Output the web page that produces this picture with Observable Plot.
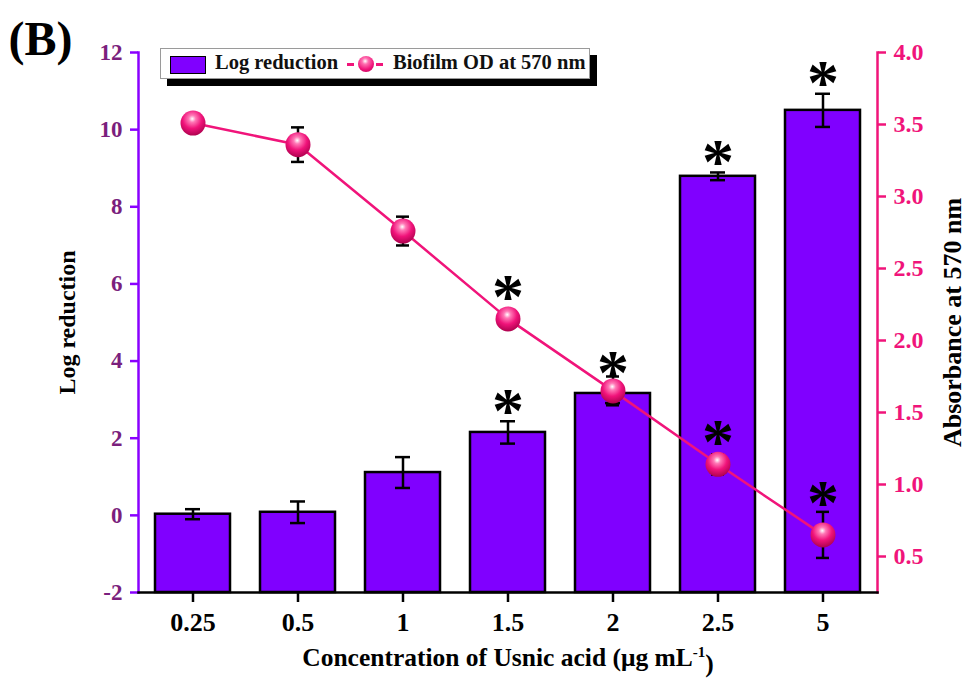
<!DOCTYPE html>
<html>
<head>
<meta charset="utf-8">
<script src="https://cdn.jsdelivr.net/npm/d3@7"></script>
<script src="https://cdn.jsdelivr.net/npm/@observablehq/plot@0.6"></script>
<style>
  html, body { margin: 0; padding: 0; background: #fff; }
  #wrap { position: relative; width: 965px; height: 679px; font-family: "Liberation Serif", "Times New Roman", serif; font-weight: bold; }
  #legend { position: absolute; left: 160px; top: 48px; width: 428px; height: 29px; background: #fff; border: 1px solid #9a9a9a; box-shadow: 7px 7px 0 #000; font-size: 20.5px; color: #111; white-space: nowrap; }
  #legend .sw { position: absolute; left: 9px; top: 7px; width: 34px; height: 16px; background: #8000ff; border: 1.5px solid #000; }
  #legend .t1 { position: absolute; left: 54px; top: 2px; }
  #legend .d1 { position: absolute; left: 186px; top: 14px; width: 7px; height: 2.5px; background: #f0147a; }
  #legend .d2 { position: absolute; left: 215px; top: 14px; width: 7px; height: 2.5px; background: #f0147a; }
  #legend .ball { position: absolute; left: 197px; top: 7px; width: 16px; height: 16px; border-radius: 50%; background: radial-gradient(circle at 45% 32%, #fff 0%, #ff6fb0 22%, #f0137a 60%, #b0004c 100%); }
  #legend .t2 { position: absolute; left: 232px; top: 2px; }
</style>
</head>
<body>
<div id="wrap"></div>
<script>
// ---- data ----
const concentrations = ["0.25", "0.5", "1", "1.5", "2", "2.5", "5"];
const logReduction    = [0.03, 0.08, 1.11, 2.15, 3.16, 8.79, 10.5];
const logReductionErr = [0.13, 0.28, 0.40, 0.29, 0.25, 0.10, 0.43];
const biofilmOD       = [3.51, 3.36, 2.76, 2.15, 1.65, 1.14, 0.65];
const biofilmODErr    = [0.05, 0.12, 0.10, 0.05, 0.10, 0.07, 0.16];
const barSignificant  = [false, false, false, true, true, true, true];
const odSignificant   = [false, false, false, true, false, true, true];
const leftTicks  = [-2, 0, 2, 4, 6, 8, 10, 12];
const rightTicks = [0.5, 1.0, 1.5, 2.0, 2.5, 3.0, 3.5, 4.0];
const leftDomain  = [-2, 12];
const rightDomain = [0.25, 4.0];

// ---- colours ----
const violet = "#8000ff";
const axisViolet = "#8a00ff";
const purpleText = "#7b1f7d";
const pink = "#f0147a";

// map right-axis values into left-axis units
const toLeft = v => leftDomain[0] + (v - rightDomain[0]) * (leftDomain[1] - leftDomain[0]) / (rightDomain[1] - rightDomain[0]);
const fromLeft = y => rightDomain[0] + (y - leftDomain[0]) * (rightDomain[1] - rightDomain[0]) / (leftDomain[1] - leftDomain[0]);

const rows = concentrations.map((c, i) => ({
  c,
  lr: logReduction[i],
  lrLo: logReduction[i] - logReductionErr[i],
  lrHi: logReduction[i] + logReductionErr[i],
  od: toLeft(biofilmOD[i]),
  odLo: toLeft(biofilmOD[i] - biofilmODErr[i]),
  odHi: toLeft(biofilmOD[i] + biofilmODErr[i]),
  barSig: barSignificant[i],
  odSig: odSignificant[i]
}));

const fontFam = "Liberation Serif, Times New Roman, serif";

const chart = Plot.plot({
  width: 965,
  height: 679,
  marginLeft: 138,
  marginRight: 88,
  marginTop: 52,
  marginBottom: 87,
  style: { fontFamily: fontFam, fontWeight: "bold", background: "transparent", overflow: "visible" },
  x: { domain: concentrations, paddingInner: 0.29, paddingOuter: 0.145 },
  y: { domain: leftDomain },
  marks: [
    Plot.barY(rows, { x: "c", y1: leftDomain[0], y2: "lr", fill: violet, stroke: "#000", strokeWidth: 2.5 }),
    Plot.ruleX(rows, { x: "c", y1: "lrLo", y2: "lrHi", stroke: "#000", strokeWidth: 2.5 }),
    Plot.tickY(rows, { x: "c", y: "lrHi", stroke: "#000", strokeWidth: 2.5, insetLeft: 30, insetRight: 30 }),
    Plot.tickY(rows, { x: "c", y: "lrLo", stroke: "#000", strokeWidth: 2.5, insetLeft: 30, insetRight: 30 }),
    Plot.line(rows, { x: "c", y: "od", stroke: pink, strokeWidth: 2.5 }),
    Plot.ruleX(rows, { x: "c", y1: "odLo", y2: "odHi", stroke: "#000", strokeWidth: 2.5 }),
    Plot.tickY(rows, { x: "c", y: "odHi", stroke: "#000", strokeWidth: 2.5, insetLeft: 31, insetRight: 31 }),
    Plot.tickY(rows, { x: "c", y: "odLo", stroke: "#000", strokeWidth: 2.5, insetLeft: 31, insetRight: 31 }),
    Plot.dot(rows, { x: "c", y: "od", r: 12.5, fill: "url(#ball)", stroke: "none" }),
    Plot.text(rows.filter(d => d.barSig), { x: "c", y: "lrHi", text: () => "*", fontSize: 64, fontFamily: fontFam, fontWeight: "bold", fill: "#000", dy: -10, lineAnchor: "middle" }),
    Plot.text(rows.filter(d => d.odSig), { x: "c", y: d => Math.max(d.odHi, d.od + 0.35), text: () => "*", fontSize: 64, fontFamily: fontFam, fontWeight: "bold", fill: "#000", dy: -8, lineAnchor: "middle" }),
    // axes
    Plot.axisY({ anchor: "left", ticks: leftTicks, tickFormat: d => String(d), tickSize: 8, tickPadding: 8, stroke: axisViolet, fill: purpleText, strokeWidth: 2.5, fontSize: 23, label: null }),
    Plot.axisY({ anchor: "right", ticks: rightTicks.map(toLeft), tickFormat: d => fromLeft(d).toFixed(1), tickSize: 8, tickPadding: 8, stroke: pink, fill: pink, strokeWidth: 2.5, fontSize: 24, label: null }),
    Plot.axisX({ anchor: "bottom", tickSize: 10, tickPadding: 10, stroke: "#000", fill: "#000", strokeWidth: 2.5, fontSize: 26, label: null }),
    Plot.frame({ anchor: "left", stroke: axisViolet, strokeWidth: 2.5 }),
    Plot.frame({ anchor: "right", stroke: pink, strokeWidth: 2.5 }),
    Plot.frame({ anchor: "bottom", stroke: "#000", strokeWidth: 2.5 }),
    // titles
    Plot.text(["(B)"], { frameAnchor: "top-left", text: d => d, dx: -130, dy: -32, fontSize: 48, fontFamily: fontFam, fontWeight: "bold", fill: "#000", textAnchor: "start", lineAnchor: "top" }),
    Plot.text(["Log reduction"], { frameAnchor: "left", text: d => d, rotate: -90, dx: -71, fontSize: 24, fontFamily: fontFam, fontWeight: "bold", fill: "#000", textAnchor: "middle", lineAnchor: "middle" }),
    Plot.text(["Absorbance at 570 nm"], { frameAnchor: "right", text: d => d, rotate: -90, dx: 75, fontSize: 26, fontFamily: fontFam, fontWeight: "bold", fill: "#000", textAnchor: "middle", lineAnchor: "middle" }),
    Plot.text(["Concentration of Usnic acid (\u03bcg mL-1)"], { frameAnchor: "bottom", text: d => d, dy: 65, fontSize: 25.5, fontFamily: fontFam, fontWeight: "bold", fill: "#000", textAnchor: "middle", lineAnchor: "middle" })
  ]
});

// gradient for the spheres
d3.select(chart).insert("defs", ":first-child").html(
  '<radialGradient id="ball" cx="0.47" cy="0.33" r="0.7">' +
  '<stop offset="0" stop-color="#ffffff"/>' +
  '<stop offset="0.2" stop-color="#ff78b6"/>' +
  '<stop offset="0.55" stop-color="#f0137a"/>' +
  '<stop offset="1" stop-color="#a8004a"/>' +
  '</radialGradient>'
);

// superscript on the x title
d3.select(chart).selectAll("text").each(function () {
  const t = d3.select(this);
  if (t.text() === "Concentration of Usnic acid (\u03bcg mL-1)") {
    t.text(null);
    t.append("tspan").text("Concentration of Usnic acid (\u03bcg mL");
    t.append("tspan").attr("dy", "-0.6em").attr("font-size", "15px").text("-1");
    t.append("tspan").attr("dy", "0.6em").text(")");
  }
});

const wrap = document.getElementById("wrap");
wrap.appendChild(chart);

const legend = document.createElement("div");
legend.id = "legend";
legend.innerHTML = '<div class="sw"></div><span class="t1">Log reduction</span><div class="d1"></div><div class="ball"></div><div class="d2"></div><span class="t2">Biofilm OD at 570 nm</span>';
wrap.appendChild(legend);
</script>
</body>
</html>
